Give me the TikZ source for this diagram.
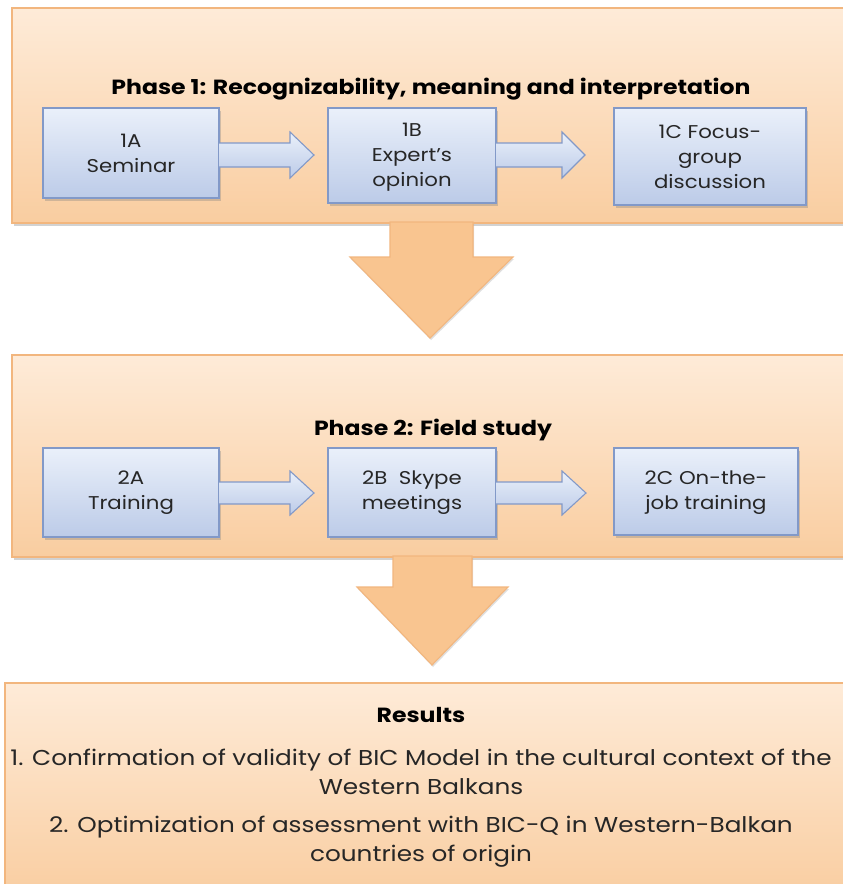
\documentclass[tikz,border=0pt]{standalone}
\usepackage{fontspec}
\setmainfont[FakeStretch=1.15]{Poppins}
\usetikzlibrary{shadows}
\definecolor{peachtop}{HTML}{FEEBD8}
\definecolor{peachbot}{HTML}{F9CDA0}
\definecolor{peachline}{HTML}{F2B67E}
\definecolor{bluetop}{HTML}{EAF0FA}
\definecolor{bluebot}{HTML}{BCCBE8}
\definecolor{blueline}{HTML}{8299C8}
\definecolor{arrowfill}{HTML}{F9C590}
\tikzset{
  phasebox/.style={draw=peachline, line width=1.2pt, top color=peachtop, bottom color=peachbot,
    drop shadow={opacity=0.35, shadow xshift=2pt, shadow yshift=-3pt}},
  stepbox/.style={draw=blueline, line width=1.2pt, top color=bluetop, bottom color=bluebot,
    drop shadow={opacity=0.35, shadow xshift=2pt, shadow yshift=-3pt}},
  harrow/.style={draw=blueline, line width=1.1pt, top color=bluetop, bottom color=bluebot, line join=miter},
  varrow/.style={draw=peachline, line width=1.1pt, fill=arrowfill, line join=miter,
    drop shadow={opacity=0.25, shadow xshift=1pt, shadow yshift=-2pt}},
  steptext/.style={align=center, font=\fontsize{18.5}{25}\selectfont, text=black!85},
  titletext/.style={font=\fontsize{20.5}{25}\selectfont\bfseries},
  restext/.style={align=center, font=\fontsize{21.5}{29}\selectfont, text=black!85},
}
\begin{document}
\begin{tikzpicture}[x=1pt,y=-1pt]
\useasboundingbox (0,0) rectangle (843,884);
\fill[white] (0,0) rectangle (843,884);

% phase boxes
\path[phasebox] (12,8) rectangle (860,223);
\path[phasebox] (12,355) rectangle (860,557);
\path[phasebox] (5,683) rectangle (860,900);

% down arrows
\path[varrow] (390,222) -- (473,222) -- (473,257) -- (513,257) -- (430,338) -- (350,257) -- (390,257) -- cycle;
\path[varrow] (393,556) -- (472,556) -- (472,587) -- (508,587) -- (432,665) -- (357,587) -- (393,587) -- cycle;

% titles
\node[titletext] (t1) at (431,89) {Phase 1: Recognizability, meaning and interpretation};
\node[titletext] (t2) at (433,430) {Phase 2: Field study};

% phase 1 boxes
\path[stepbox] (43,108) rectangle (219,198);
\path[stepbox] (328,108) rectangle (496,203);
\path[stepbox] (614,108) rectangle (806,205);
\node[steptext] (a1) at (131,153) {1A\\Seminar};
\node[steptext] (b1) at (412,157) {1B\\Expert’s\\opinion};
\node[steptext] (c1) at (710,157) {1C Focus-\\group\\discussion};

% phase 1 arrows
\path[harrow] (219,143) -- (290,143) -- (290,132) -- (314,155) -- (290,178) -- (290,167) -- (219,167);
\path[harrow] (496,143) -- (562,143) -- (562,132) -- (585,155) -- (562,178) -- (562,167) -- (496,167);

% phase 2 boxes
\path[stepbox] (43,448) rectangle (219,537);
\path[stepbox] (328,448) rectangle (496,537);
\path[stepbox] (614,448) rectangle (798,535);
\node[steptext] (a2) at (131,493) {2A\\Training};
\node[steptext] (b2) at (412,493) {2B\ \ Skype\\meetings};
\node[steptext] (c2) at (706,493) {2C On-the-\\job training};

% phase 2 arrows
\path[harrow] (219,482) -- (290,482) -- (290,471) -- (314,493) -- (290,515) -- (290,504) -- (219,504);
\path[harrow] (496,482) -- (562,482) -- (562,471) -- (586,493) -- (562,515) -- (562,504) -- (496,504);

% results
\node[titletext] (r) at (421,715) {Results};
\node[restext] (r1) at (421,772)
  {1. Confirmation of validity of BIC Model in the cultural context of the\\Western Balkans};
\node[restext] (r2) at (421,842)
  {2. Optimization of assessment with BIC-Q in Western-Balkan\\countries of origin};
\end{tikzpicture}
\end{document}
